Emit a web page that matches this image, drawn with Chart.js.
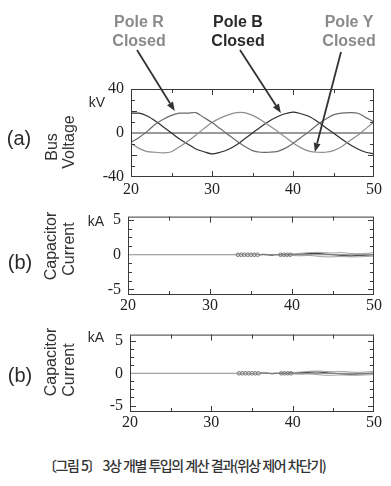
<!DOCTYPE html>
<html>
<head>
<meta charset="utf-8">
<script src="https://cdn.jsdelivr.net/npm/chart.js@4.4.1/dist/chart.umd.min.js"></script>
<style>
    html, body { margin: 0; padding: 0; background: #fff; }
    #page { position: relative; width: 391px; height: 486px; overflow: hidden;
        font-family: 'Liberation Sans', Arial, sans-serif; color: #2a2a2a; }
    canvas { position: absolute; left: 0; }
    .lbl { position: absolute; white-space: nowrap; line-height: 1; z-index: 2; }
    .ctr { transform: translate(-50%, -50%); }
    .rot { transform: translate(-50%, -50%) rotate(-90deg); font-size: 16px; color: #333; }
    .pole { position: absolute; top: 12px; font-weight: bold; font-size: 16px; line-height: 19px;
        text-align: center; transform: translateX(-50%); white-space: nowrap; z-index: 2; }
    .caption { position: absolute; left: 43px; top: 455px; font-family: 'Noto Sans CJK KR', sans-serif;
        font-size: 14px; font-weight: 500; letter-spacing: -1.5px; word-spacing: 1px; color: #333; white-space: nowrap; }
</style>
</head>
<body>
<div id="page">
    <canvas id="busVoltage" width="391" height="200" style="top:0"></canvas>
    <canvas id="capCurrent1" width="391" height="118" style="top:200px"></canvas>
    <canvas id="capCurrent2" width="391" height="122" style="top:318px"></canvas>

    <div class="pole" style="left:139px;color:#8a8a8a">Pole R<br>Closed</div>
    <div class="pole" style="left:238px;color:#2a2a2a">Pole B<br>Closed</div>
    <div class="pole" style="left:349px;color:#8a8a8a">Pole Y<br>Closed</div>

    <div class="lbl ctr" style="left:19px;top:138px;font-size:20px">(a)</div>
    <div class="lbl rot" style="left:52px;top:147px">Bus</div>
    <div class="lbl rot" style="left:69px;top:142px">Voltage</div>
    <div class="lbl ctr" style="left:97px;top:102px;font-size:14px">kV</div>

    <div class="lbl ctr" style="left:20px;top:262px;font-size:20px">(b)</div>
    <div class="lbl rot" style="left:51px;top:246px">Capacitor</div>
    <div class="lbl rot" style="left:69px;top:249px">Current</div>
    <div class="lbl ctr" style="left:96px;top:221px;font-size:14px">kA</div>

    <div class="lbl ctr" style="left:20px;top:375px;font-size:20px">(b)</div>
    <div class="lbl rot" style="left:51px;top:362px">Capacitor</div>
    <div class="lbl rot" style="left:69px;top:370px">Current</div>
    <div class="lbl ctr" style="left:96px;top:337px;font-size:14px">kA</div>

    <div class="caption">〔그림 5〕 3상 개별 투입의 계산 결과(위상 제어 차단기)</div>
</div>
<script>
    // time axis (ms) and tick labels
    const timeTicks = [20, 30, 40, 50];
    const voltTicks = [-40, -20, 0, 20, 40];
    const currentTicks = [-5, 0, 5];

    // bus voltage (kV), read every 1 ms from 20 to 50
    const voltTime = [20, 21, 22, 23, 24, 25, 26, 27, 28, 29, 30, 31, 32, 33, 34, 35,
        36, 37, 38, 39, 40, 41, 42, 43, 44, 45, 46, 47, 48, 49, 50];
    const busVoltageB = [18, 18, 15.5, 11, 5.5, 0, -5.5, -10, -14.5, -17, -19, -17.5, -15, -11, -5.5, 0,
        5.5, 10.5, 14.5, 17.5, 19, 17.5, 15, 10.5, 5, 0, -5.5, -10.5, -14.5, -17.5, -19];
    const busVoltageR = [-8.5, -4, 1.5, 8, 12.5, 16, 18, 18, 18.5, 14, 9.5, 4, -1.5, -7, -12, -16,
        -17.5, -17.5, -17, -14, -9.5, -4, 1.5, 7.5, 12.5, 16.5, 18, 18.5, 18, 14, 10];
    const busVoltageY = [-9.5, -14, -17, -17.5, -18, -17, -12.5, -7.5, -2, 4, 9.5, 13.5, 16.5, 18.5, 18.5, 16,
        12, 7, 2, -3.5, -9, -13.5, -16.5, -17.5, -17.5, -16, -12.5, -7, -2, 4, 10];

    // capacitor current (kA)
    const baseTime = [20, 50];
    const baseCurrent = [0, 0];
    const darkTime = [36, 36.5, 37, 37.5, 38, 39, 40, 41, 42, 43, 44, 45, 46, 47, 48, 49, 50];
    const darkCurrent = [0, 0.05, 0, -0.05, 0, 0, 0.05, 0.1, 0.15, 0.2, 0.1, 0, -0.1, -0.15, -0.1, -0.05, 0];
    const bandTime = [40, 41, 42, 43, 44, 45, 46, 47, 48, 49, 50];
    const bandUpper = [0.1, 0.2, 0.3, 0.35, 0.3, 0.25, 0.3, 0.2, 0.15, 0.2, 0.3];
    const bandLower = [-0.1, -0.15, -0.1, -0.2, -0.3, -0.3, -0.25, -0.3, -0.3, -0.25, -0.2];
    const ringTime = [33.4, 33.8, 34.2, 34.6, 35.0, 35.4, 35.8, 38.6, 39.0, 39.4, 39.8];
    const ringCurrent = [0, 0, 0, 0, 0, 0, 0, 0, 0, 0, 0];

    const serifFamily = "'Liberation Serif', 'DejaVu Serif', 'Times New Roman', serif";
    Chart.defaults.font.family = serifFamily;
    Chart.defaults.color = '#222';

    function toPoints(xs, ys) {
        return xs.map((x, i) => ({ x: x, y: ys[i] }));
    }

    // box frame with inward ticks on all four sides
    const frameTicks = {
        id: 'frameTicks',
        afterDatasetsDraw(chart, args, opts) {
            const { ctx, chartArea: a, scales: { x, y } } = chart;
            ctx.save();
            ctx.strokeStyle = '#3a3a3a';
            ctx.lineWidth = 1;
            ctx.strokeRect(a.left + 0.5, a.top + 0.5, a.width - 1, a.height - 1);
            ctx.beginPath();
            (opts.xMarks || []).forEach((v) => {
                const px = Math.round(x.getPixelForValue(v)) + 0.5;
                const len = v % 10 === 0 ? 6 : 4;
                ctx.moveTo(px, a.bottom); ctx.lineTo(px, a.bottom - len);
                ctx.moveTo(px, a.top); ctx.lineTo(px, a.top + len);
            });
            (opts.yMarks || []).forEach((v) => {
                const py = Math.round(y.getPixelForValue(v)) + 0.5;
                const len = opts.yMajor.includes(v) ? 6 : 4;
                ctx.moveTo(a.left, py); ctx.lineTo(a.left + len, py);
                ctx.moveTo(a.right, py); ctx.lineTo(a.right - len, py);
            });
            ctx.stroke();
            ctx.restore();
        }
    };

    const arrowsPlugin = {
        id: 'arrows',
        afterDraw(chart, args, opts) {
            if (!opts || !opts.items) {
                return;
            }
            const { ctx, scales: { x, y } } = chart;
            ctx.save();
            ctx.strokeStyle = '#333';
            ctx.fillStyle = '#333';
            ctx.lineWidth = 1.8;
            opts.items.forEach((it) => {
                const x0 = it.from[0];
                const y0 = it.from[1];
                const x1 = x.getPixelForValue(it.tip[0]);
                const y1 = y.getPixelForValue(it.tip[1]);
                const ang = Math.atan2(y1 - y0, x1 - x0);
                const bx = x1 - 9 * Math.cos(ang);
                const by = y1 - 9 * Math.sin(ang);
                ctx.beginPath();
                ctx.moveTo(x0, y0);
                ctx.lineTo(bx, by);
                ctx.stroke();
                ctx.beginPath();
                ctx.moveTo(x1, y1);
                ctx.lineTo(bx + 3.5 * Math.sin(ang), by - 3.5 * Math.cos(ang));
                ctx.lineTo(bx - 3.5 * Math.sin(ang), by + 3.5 * Math.cos(ang));
                ctx.closePath();
                ctx.fill();
            });
            ctx.restore();
        }
    };

    function buildPanel(canvasId, cfg) {
        const ctx = document.getElementById(canvasId).getContext('2d');
        return new Chart(ctx, {
            type: 'line',
            data: { datasets: cfg.datasets },
            options: {
                responsive: false,
                animation: false,
                layout: { padding: { top: cfg.padTop, right: 17, left: 0, bottom: 0 } },
                elements: { point: { radius: 0 }, line: { borderWidth: 1.2 } },
                plugins: {
                    legend: { display: false },
                    tooltip: { enabled: false },
                    frameTicks: { xMarks: [25, 30, 35, 40, 45], yMarks: cfg.yMarks, yMajor: cfg.yTicks },
                    arrows: { items: cfg.arrows || [] }
                },
                scales: {
                    x: {
                        type: 'linear',
                        min: 20,
                        max: 50,
                        afterBuildTicks: (s) => { s.ticks = timeTicks.map((v) => ({ value: v })); },
                        afterFit: (s) => { s.height = cfg.xHeight; },
                        grid: { display: false },
                        border: { display: false },
                        ticks: { font: { family: serifFamily, size: 16 }, padding: cfg.xPad, maxRotation: 0, autoSkip: false }
                    },
                    y: {
                        type: 'linear',
                        min: cfg.yMin,
                        max: cfg.yMax,
                        afterBuildTicks: (s) => { s.ticks = cfg.yTicks.map((v) => ({ value: v })); },
                        afterFit: (s) => { s.width = cfg.yWidth; },
                        grid: {
                            drawTicks: false,
                            lineWidth: 2,
                            color: (c) => (cfg.zeroLine && c.tick && c.tick.value === 0 ? '#9a9a9a' : 'rgba(0,0,0,0)')
                        },
                        border: { display: false },
                        ticks: { font: { family: serifFamily, size: 16 }, padding: 7 }
                    }
                }
            },
            plugins: [frameTicks, arrowsPlugin]
        });
    }

    function currentDatasets() {
        return [
            { data: toPoints(baseTime, baseCurrent), borderColor: '#8a8a8a', borderWidth: 1 },
            { data: toPoints(bandTime, bandUpper), borderColor: '#a0a0a0', borderWidth: 1, tension: 0.3 },
            { data: toPoints(bandTime, bandLower), borderColor: '#a0a0a0', borderWidth: 1, tension: 0.3 },
            { data: toPoints(darkTime, darkCurrent), borderColor: '#444', borderWidth: 1.2, tension: 0.3 },
            {
                data: toPoints(ringTime, ringCurrent), showLine: false, pointStyle: 'circle',
                pointRadius: 1.8, pointBorderWidth: 0.8, pointBorderColor: '#555', pointBackgroundColor: '#fff'
            }
        ];
    }

    buildPanel('busVoltage', {
        padTop: 89, xHeight: 23, yWidth: 131, xPad: -5,
        yMin: -40, yMax: 40, yTicks: voltTicks, yMarks: [-30, -20, -10, 10, 20, 30], zeroLine: true,
        datasets: [
            { data: toPoints(voltTime, busVoltageR), borderColor: '#6a6a6a', tension: 0.3 },
            { data: toPoints(voltTime, busVoltageY), borderColor: '#8e8e8e', tension: 0.3 },
            { data: toPoints(voltTime, busVoltageB), borderColor: '#2e2e2e', tension: 0.3 }
        ],
        arrows: [
            { from: [137, 50], tip: [25.4, 20] },
            { from: [240, 50], tip: [38.5, 18.2] },
            { from: [341, 52], tip: [42.7, -17.3] }
        ]
    });

    const currentMarks = [-5, -3.75, -2.5, -1.25, 1.25, 2.5, 3.75, 5];

    buildPanel('capCurrent1', {
        padTop: 14, xHeight: 23, yWidth: 128, xPad: -7,
        yMin: -5.8, yMax: 5.5, yTicks: currentTicks, yMarks: currentMarks, zeroLine: false,
        datasets: currentDatasets()
    });

    buildPanel('capCurrent2', {
        padTop: 6, xHeight: 28, yWidth: 130, xPad: -7,
        yMin: -6, yMax: 6, yTicks: currentTicks, yMarks: currentMarks, zeroLine: false,
        datasets: currentDatasets()
    });
</script>
</body>
</html>
